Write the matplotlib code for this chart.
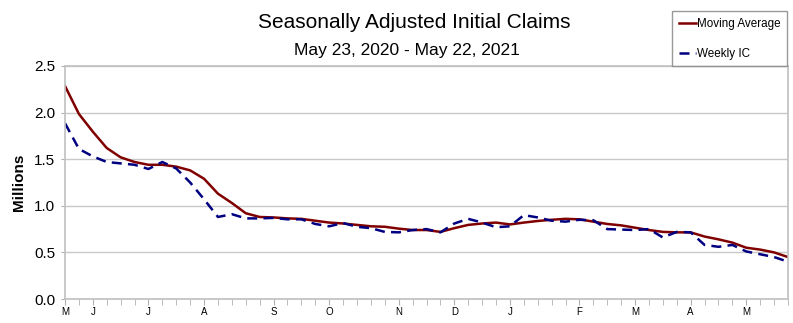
import matplotlib.pyplot as plt
import numpy as np

plt.rcParams["font.family"] = ["Liberation Sans", "DejaVu Sans"]

# weeks from May 23, 2020 to May 22, 2021
month_labels = ["M", "J", "J", "A", "S", "O", "N", "D", "J", "F", "M", "A", "M"]
month_weeks = [0, 2, 6, 10, 15, 19, 24, 28, 32, 37, 41, 45, 49]

moving_avg = [
    2.285, 1.985, 1.795, 1.62, 1.52, 1.47, 1.44, 1.44, 1.42, 1.38,
    1.29, 1.13, 1.03, 0.92, 0.88, 0.875, 0.865, 0.86, 0.84, 0.82,
    0.81, 0.795, 0.78, 0.775, 0.755, 0.74, 0.74, 0.72, 0.76, 0.795,
    0.81, 0.82, 0.80, 0.82, 0.837, 0.85, 0.86, 0.855, 0.83, 0.805,
    0.79, 0.765, 0.74, 0.72, 0.715, 0.715, 0.67, 0.64, 0.605, 0.55,
    0.53, 0.50, 0.45,
]
weekly_ic = [
    1.885, 1.61, 1.53, 1.47, 1.455, 1.44, 1.395, 1.47, 1.40, 1.25,
    1.07, 0.88, 0.91, 0.865, 0.865, 0.87, 0.855, 0.855, 0.805, 0.78,
    0.815, 0.775, 0.76, 0.72, 0.715, 0.74, 0.75, 0.715, 0.81, 0.86,
    0.82, 0.77, 0.78, 0.90, 0.875, 0.84, 0.83, 0.85, 0.845, 0.75,
    0.745, 0.74, 0.75, 0.66, 0.72, 0.715, 0.58, 0.56, 0.58, 0.51,
    0.48, 0.45, 0.40,
]

weeks = np.arange(len(moving_avg))

fig = plt.figure(figsize=(7.93, 3.23), dpi=100)
ax = fig.add_axes([0.082, 0.0743, 0.9117, 0.7214])

ax.plot(weeks, moving_avg, color="#800000", lw=1.8, label="Moving Average")
ax.plot(weeks, weekly_ic, color="#000080", lw=1.8, dashes=(4, 2.5), label="Weekly IC")

ax.set_xlim(0, len(weeks) - 1)
ax.set_ylim(0, 2.5)
ax.set_yticks(np.arange(0, 2.51, 0.5))
ax.set_yticklabels([f"{v:.1f}" for v in np.arange(0, 2.51, 0.5)], fontsize=11)
ax.yaxis.grid(True, color="#c8c8c8", lw=1)
ax.set_axisbelow(True)

ax.set_xticks(month_weeks)
ax.set_xticklabels(month_labels, fontsize=7)
ax.set_xticks(weeks, minor=True)
ax.tick_params(axis="x", which="both", length=4, color="#b0b0b0", direction="out", pad=2)
ax.tick_params(axis="y", length=3, color="#b0b0b0", pad=4)

for side in ["left", "bottom", "right", "top"]:
    ax.spines[side].set_color("#c0c0c0")
    ax.spines[side].set_linewidth(1.2)

ax.set_ylabel("Millions", fontsize=11, fontweight="bold", labelpad=6)

fig.text(0.522, 0.929, "Seasonally Adjusted Initial Claims", ha="center", va="center", fontsize=15)
fig.text(0.513, 0.845, "May 23, 2020 - May 22, 2021", ha="center", va="center", fontsize=12.5)

leg = fig.legend(loc="upper right", bbox_to_anchor=(0.993, 0.965), fontsize=8.4,
                 frameon=True, fancybox=False, handlelength=1.5, handletextpad=0.1,
                 labelspacing=1.55, borderpad=0.55, borderaxespad=0)
leg.get_frame().set_edgecolor("#808080")
leg.get_frame().set_linewidth(1.0)

fig.savefig("out.png", dpi=100)
